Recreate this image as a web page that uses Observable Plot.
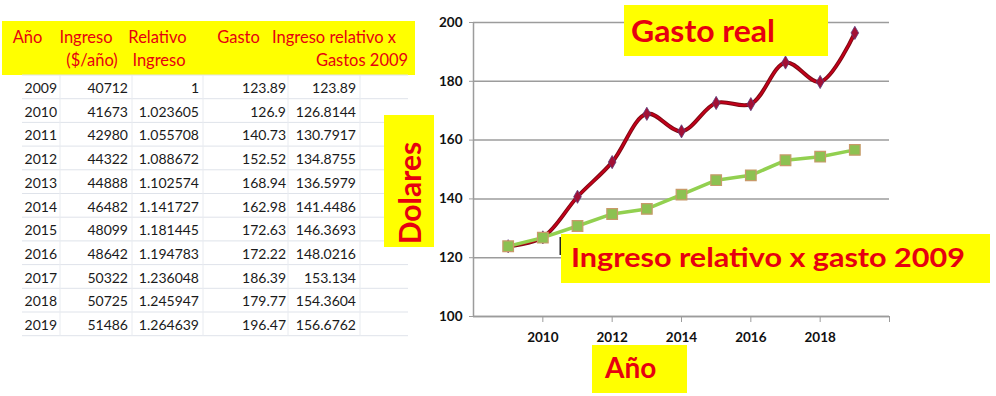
<!DOCTYPE html>
<html><head><meta charset="utf-8">
<script src="https://cdn.jsdelivr.net/npm/d3@7"></script>
<script src="https://cdn.jsdelivr.net/npm/@observablehq/plot@0.6"></script>
<style>
body{margin:0;background:#fff;}
#wrap{position:relative;width:996px;height:396px;overflow:hidden;background:#fff;}
#wrap svg{position:absolute;left:0;top:0;}
</style></head><body><div id="wrap"></div>
<script>
// ---- data ----
const years = [2009,2010,2011,2012,2013,2014,2015,2016,2017,2018,2019];
const ingreso = [40712,41673,42980,44322,44888,46482,48099,48642,50322,50725,51486];
const relativo = [1,1.023605,1.055708,1.088672,1.102574,1.141727,1.181445,1.194783,1.236048,1.245947,1.264639];
const gasto = [123.89,126.9,140.73,152.52,168.94,162.98,172.63,172.22,186.39,179.77,196.47];
const ingresoRelGasto = [123.89,126.8144,130.7917,134.8755,136.5979,141.4486,146.3693,148.0216,153.134,154.3604,156.6762];
const headerRow1 = ["Año","Ingreso","Relativo","Gasto","Ingreso relativo x"];
const headerRow2 = ["","($/año)","Ingreso","","Gastos 2009"];
const yTicks = [100,120,140,160,180,200];
const xTicks = [2010,2012,2014,2016,2018,2020];
const labelGasto = "Gasto real";
const labelIngreso = "Ingreso relativo x gasto 2009";
const labelY = "Dolares";
const labelX = "Año";

// ---- chart ----
const data = years.map((y,i)=>({year:y, gasto:gasto[i], rel:ingresoRelGasto[i]}));
const grid = "#9c9c9c";
const chart = Plot.plot({
  width:996, height:396,
  marginLeft:473, marginRight:107, marginTop:22, marginBottom:80,
  x:{domain:[2008,2020]},
  y:{domain:[100,200]},
  style:{fontFamily:"Lato, sans-serif", fontSize:"13.5px", fontWeight:700, color:"#111", background:"transparent"},
  marks:[
    Plot.gridY(yTicks,{stroke:grid, strokeOpacity:1, strokeWidth:1.5}),
    Plot.ruleX([2008],{stroke:grid, strokeWidth:1.5}),
    Plot.ruleY([100],{stroke:grid, strokeWidth:1.5}),
    Plot.axisY(yTicks,{tickSize:4, tickPadding:7, stroke:grid, fill:"#111", label:null, tickFormat:d=>String(d)}),
    Plot.axisX(xTicks,{tickSize:6, tickPadding:10, stroke:grid, fill:"#111", label:null, tickFormat:d=> d===2020 ? "" : String(d)}),
    Plot.line(data,{x:"year", y:"gasto", curve:"catmull-rom", stroke:"#7d0a14", strokeWidth:4}),
    Plot.line(data,{x:"year", y:"gasto", curve:"catmull-rom", stroke:"#c4001a", strokeWidth:2}),
    Plot.dot(data,{x:"year", y:"gasto", symbol:"diamond", r:4, fill:"#a31035", stroke:"#5b3b7c", strokeWidth:0.8}),
    Plot.line(data,{x:"year", y:"rel", stroke:"#92d050", strokeWidth:3.5}),
    Plot.dot(data,{x:"year", y:"rel", symbol:"square", r:6, fill:"#8cc152", stroke:"#c89a6a", strokeWidth:1.2})
  ]
});
const wrap = document.getElementById("wrap");
wrap.appendChild(chart);

// ---- overlay: table + annotation boxes ----
const svg = d3.select(wrap).append("svg")
  .attr("width",996).attr("height",396)
  .style("font-family","Lato, sans-serif")
  .style("pointer-events","none");
const yellow = "#ffff00", red = "#e60010";

// table header
svg.append("rect").attr("x",2).attr("y",21).attr("width",413).attr("height",54).attr("fill",yellow);
const h1c = [27.5, 86, 157.5, 238.5, 334];
const h2c = [0, 92, 159, 0, 362];
headerRow1.forEach((t,i)=>{
  svg.append("text").attr("x",h1c[i]).attr("y",43).attr("text-anchor","middle")
    .attr("fill",red).attr("font-size",16.5).text(t);
});
headerRow2.forEach((t,i)=>{
  if(!t) return;
  svg.append("text").attr("x",h2c[i]).attr("y",66).attr("text-anchor","middle")
    .attr("fill",red).attr("font-size",16.5).text(t);
});
// table grid
const rowH = 23.7, row0 = 75;
for(let i=0;i<=years.length;i++){
  svg.append("line").attr("x1",22).attr("x2",408).attr("y1",row0+rowH*i).attr("y2",row0+rowH*i)
    .attr("stroke","#dfe3ea").attr("stroke-width",1);
}
[60,132,203,288,360].forEach(x=>{
  svg.append("line").attr("x1",x).attr("x2",x).attr("y1",row0).attr("y2",row0+rowH*years.length)
    .attr("stroke","#e8ebf0").attr("stroke-width",1);
});
const colRight = [57,128,199,286,356];
const cols = [years, ingreso, relativo, gasto, ingresoRelGasto];
years.forEach((yr,i)=>{
  cols.forEach((c,j)=>{
    svg.append("text").attr("x",colRight[j]).attr("y",row0+rowH*i+18)
      .attr("text-anchor","end").attr("fill","#1a1a1a").attr("font-size",14).text(String(c[i]));
  });
});

// Dolares
svg.append("rect").attr("x",384).attr("y",115).attr("width",50).attr("height",132).attr("fill",yellow);
svg.append("text").attr("transform","translate(421,193) rotate(-90)").attr("text-anchor","middle")
  .attr("fill",red).attr("font-size",30).attr("font-weight",700).text(labelY);
// Gasto real
svg.append("rect").attr("x",624).attr("y",5).attr("width",204).attr("height",51).attr("fill",yellow);
svg.append("text").attr("x",631).attr("y",42).attr("fill",red).attr("font-size",30).attr("font-weight",700)
  .attr("textLength",144).attr("lengthAdjust","spacingAndGlyphs").text(labelGasto);
// Ingreso relativo
svg.append("rect").attr("x",559.5).attr("y",237).attr("width",1.5).attr("height",18).attr("fill","#222");
svg.append("rect").attr("x",561).attr("y",234).attr("width",429).attr("height",49).attr("fill",yellow);
svg.append("text").attr("x",571).attr("y",267).attr("fill",red).attr("font-size",27).attr("font-weight",700)
  .attr("textLength",394).attr("lengthAdjust","spacingAndGlyphs").text(labelIngreso);
// Año
svg.append("rect").attr("x",592).attr("y",345).attr("width",95).attr("height",48).attr("fill",yellow);
svg.append("text").attr("x",605).attr("y",378).attr("fill",red).attr("font-size",28).attr("font-weight",700).text(labelX);
</script>
</body></html>
